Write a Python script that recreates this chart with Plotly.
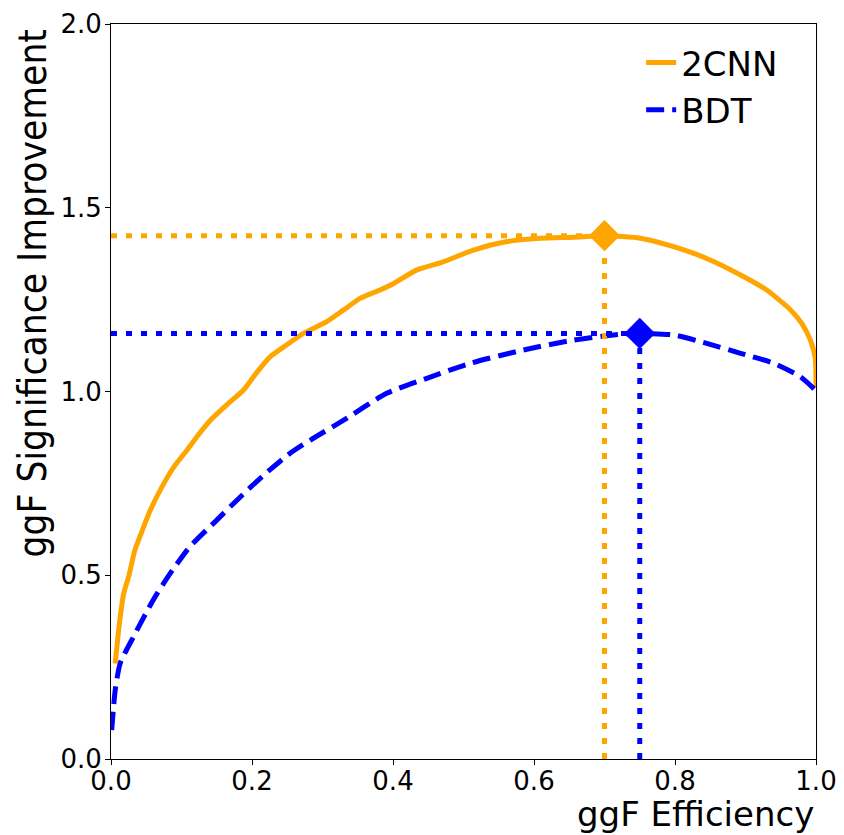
import plotly.graph_objects as go

# 2CNN curve (ggF efficiency, significance improvement)
cnn_eff = [0.006, 0.012, 0.018, 0.025, 0.034, 0.045, 0.056, 0.075, 0.090, 0.108, 0.125,
           0.141, 0.165, 0.188, 0.206, 0.226, 0.250, 0.273, 0.306, 0.330, 0.354, 0.380,
           0.401, 0.434, 0.470, 0.514, 0.562, 0.609, 0.656, 0.700, 0.751, 0.798, 0.845,
           0.893, 0.930, 0.964, 0.980, 0.992, 0.999, 1.000]
cnn_sig = [0.26, 0.37, 0.45, 0.496, 0.569, 0.625, 0.678, 0.750, 0.797, 0.841, 0.885,
           0.922, 0.965, 1.004, 1.050, 1.095, 1.128, 1.158, 1.190, 1.222, 1.254, 1.275,
           1.294, 1.331, 1.352, 1.385, 1.408, 1.417, 1.420, 1.424, 1.417, 1.394, 1.362,
           1.317, 1.276, 1.222, 1.185, 1.140, 1.090, 1.010]

# BDT curve
bdt_eff = [0.001, 0.006, 0.013, 0.032, 0.060, 0.084, 0.112, 0.150, 0.179, 0.214, 0.254,
           0.283, 0.330, 0.391, 0.448, 0.510, 0.585, 0.656, 0.713, 0.751, 0.798, 0.845,
           0.893, 0.940, 0.978, 0.999]
bdt_sig = [0.079, 0.188, 0.26, 0.333, 0.433, 0.505, 0.578, 0.650, 0.705, 0.768, 0.832,
           0.868, 0.922, 0.995, 1.036, 1.077, 1.113, 1.140, 1.154, 1.158, 1.154, 1.131,
           1.104, 1.077, 1.040, 1.004]

# Optimal working points
cnn_best_eff, cnn_best_sig = 0.70, 1.424
bdt_best_eff, bdt_best_sig = 0.75, 1.158

x_ticks = [0.0, 0.2, 0.4, 0.6, 0.8, 1.0]
y_ticks = [0.0, 0.5, 1.0, 1.5, 2.0]

ORANGE = "#FFA500"
BLUE = "#0000FF"

fig = go.Figure()
fig.add_trace(go.Scatter(x=cnn_eff, y=cnn_sig, mode="lines", name="2CNN",
                         line=dict(color=ORANGE, width=5, shape="spline", smoothing=0.6)))
fig.add_trace(go.Scatter(x=bdt_eff, y=bdt_sig, mode="lines", name="BDT",
                         line=dict(color=BLUE, width=5, dash="18px,8px",
                                   shape="spline", smoothing=0.6)))

for ex, sg, col in [(cnn_best_eff, cnn_best_sig, ORANGE), (bdt_best_eff, bdt_best_sig, BLUE)]:
    fig.add_trace(go.Scatter(x=[0, ex], y=[sg, sg], mode="lines", showlegend=False,
                             line=dict(color=col, width=5, dash="6px,9px")))
    fig.add_trace(go.Scatter(x=[ex, ex], y=[0, sg], mode="lines", showlegend=False,
                             line=dict(color=col, width=5, dash="6px,9px")))
    fig.add_trace(go.Scatter(x=[ex], y=[sg], mode="markers", showlegend=False,
                             marker=dict(symbol="diamond", size=24, color=col)))

axis_common = dict(showline=True, linecolor="black", linewidth=1, mirror=True,
                   ticks="outside", ticklen=5, tickcolor="black", showgrid=False,
                   zeroline=False, automargin=False,
                   tickfont=dict(family="DejaVu Sans", size=26, color="black"))

fig.update_xaxes(range=[0, 1], tickvals=x_ticks, tickformat=".1f",
                 ticklabelstandoff=-6, **axis_common)
fig.update_yaxes(range=[0, 2], tickvals=y_ticks, tickformat=".1f",
                 ticklabelstandoff=-2, **axis_common)

fig.update_layout(
    width=836, height=827,
    margin=dict(l=103, r=28, t=16, b=76, autoexpand=False),
    plot_bgcolor="white", paper_bgcolor="white",
    font=dict(family="DejaVu Sans", color="black"),
    legend=dict(x=0.752, y=0.9865, xanchor="left", yanchor="top",
                bgcolor="rgba(0,0,0,0)", font=dict(size=34, family="DejaVu Sans")),
    annotations=[
        dict(text="ggF Efficiency", xref="paper", yref="paper", x=1.0, y=-0.045,
             xanchor="right", yanchor="top", showarrow=False,
             font=dict(size=34, family="DejaVu Sans", color="black")),
        dict(text="ggF Significance Improvement", xref="paper", yref="paper",
             x=-0.111, y=0.633, xanchor="center", yanchor="middle", textangle=-90,
             showarrow=False, borderpad=0,
             font=dict(size=38.5, family="DejaVu Sans Condensed, DejaVu Sans", color="black")),
    ],
)

fig.write_html("out.html")
